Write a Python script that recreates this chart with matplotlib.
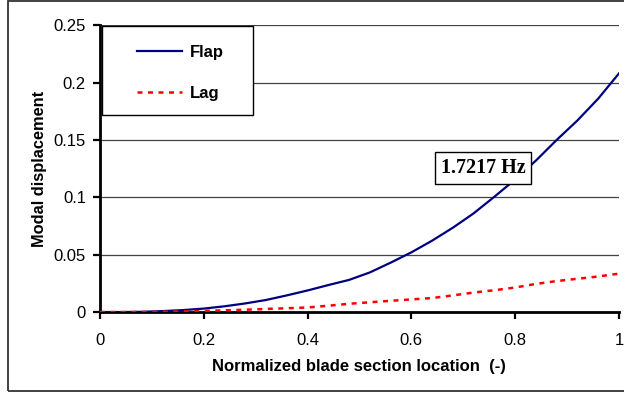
import matplotlib.pyplot as plt
from matplotlib.patches import Rectangle

# Blade section stations (normalized) and modal displacements
x_pos = [0.00, 0.04, 0.08, 0.12, 0.16, 0.20, 0.24, 0.28, 0.32, 0.36, 0.40, 0.44, 0.48,
         0.52, 0.56, 0.60, 0.64, 0.68, 0.72, 0.76, 0.80, 0.84, 0.88, 0.92, 0.96, 1.00]
flap = [0.0, 0.0, 0.0002, 0.0008, 0.0017, 0.003, 0.005, 0.0075, 0.0105, 0.0145, 0.0188,
        0.0235, 0.028, 0.0345, 0.043, 0.052, 0.0622, 0.0735, 0.086, 0.1005, 0.1155,
        0.132, 0.150, 0.167, 0.186, 0.208]
lag = [0.0, 0.0, 0.0, 0.0002, 0.0005, 0.001, 0.0015, 0.002, 0.0027, 0.0033, 0.004,
       0.0055, 0.0072, 0.0085, 0.0098, 0.011, 0.0122, 0.0145, 0.017, 0.019, 0.0214,
       0.0245, 0.027, 0.029, 0.031, 0.0335]

freq_label = '1.7217 Hz'
x_ticks = [0, 0.2, 0.4, 0.6, 0.8, 1]
x_ticklabels = ['0', '0.2', '0.4', '0.6', '0.8', '1']
y_ticks = [0, 0.05, 0.1, 0.15, 0.2, 0.25]
y_ticklabels = ['0', '0.05', '0.1', '0.15', '0.2', '0.25']

plt.rcParams['font.family'] = ['Liberation Sans', 'DejaVu Sans']

fig = plt.figure(figsize=(6.24, 3.93), dpi=100)
ax = fig.add_axes([0.160, 0.206, 0.832, 0.730])

# outer chart border
fig.patches.append(Rectangle((8 / 624, 2 / 393), 620 / 624, 390 / 393,
                             transform=fig.transFigure, fill=False,
                             edgecolor='#333333', lw=1.3))

for y in y_ticks[1:]:
    ax.axhline(y, color='#444444', lw=0.9, zorder=1)

flap_line, = ax.plot(x_pos, flap, color='#000080', lw=1.6, zorder=3)
lag_line, = ax.plot(x_pos, lag, color='#ff0000', lw=1.8, ls=(0, (2, 2.2)), zorder=3)

ax.set_xlim(0, 1)
ax.set_ylim(0, 0.25)
ax.set_xticks(x_ticks)
ax.set_xticklabels(x_ticklabels)
ax.set_yticks(y_ticks)
ax.set_yticklabels(y_ticklabels)
ax.tick_params(axis='both', labelsize=12, direction='out', width=1.6, length=5, pad=5)
ax.tick_params(axis='x', pad=10)

for side in ['top', 'right']:
    ax.spines[side].set_visible(False)
for side in ['left', 'bottom']:
    ax.spines[side].set_linewidth(2)
    ax.spines[side].set_color('black')

ax.set_xlabel('Normalized blade section location  (-)', fontsize=12,
              fontweight='bold', labelpad=8)
ax.set_ylabel('Modal displacement', fontsize=11.8, fontweight='bold', labelpad=5)

# legend frame drawn separately so the padding can be set freely
ax.add_patch(Rectangle((0.005, 0.686), 0.29, 0.311, transform=ax.transAxes,
                       facecolor='white', edgecolor='black', lw=1, zorder=4))
ax.legend([flap_line, lag_line], ['Flap', 'Lag'], frameon=False,
          loc='upper left', bbox_to_anchor=(0.052, 0.965), borderpad=0.6,
          borderaxespad=0, handlelength=2.7, handletextpad=0.5,
          labelspacing=1.55, prop={'weight': 'bold', 'size': 12}).set_zorder(5)

ax.text(0.738, 0.1254, freq_label, ha='center', va='center', fontsize=14.5,
        fontweight='bold', family=['Liberation Serif', 'DejaVu Serif'], zorder=6,
        bbox=dict(boxstyle='square,pad=0.28', facecolor='white', edgecolor='black', lw=1))

fig.savefig('out.png', dpi=100)
